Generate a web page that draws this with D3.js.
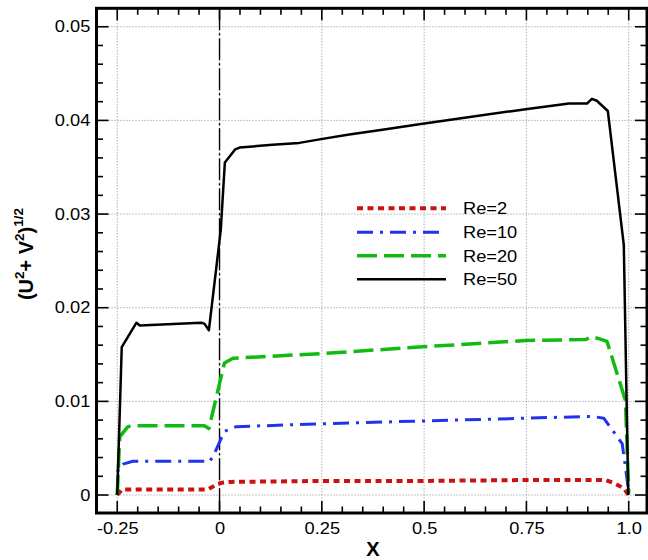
<!DOCTYPE html>
<html>
<head>
<meta charset="utf-8">
<script src="https://cdn.jsdelivr.net/npm/d3@7"></script>
<style>
  html, body { margin: 0; padding: 0; background: #fff; }
  svg { display: block; font-family: "Liberation Sans", Arial, Helvetica, sans-serif; }
</style>
</head>
<body>
<svg id="chart" width="648" height="560"></svg>
<script>
// Velocity magnitude profiles along X for several Reynolds numbers
const re2X  = [-0.25, -0.238, -0.226, -0.028, -0.004, 0.005, 0.025, 0.248, 0.488, 0.748, 0.943, 0.968, 0.988, 1.0];
const re2Y  = [0, 0.0006, 0.0006, 0.0006, 0.0012, 0.0013, 0.0014, 0.0015, 0.0015, 0.0016, 0.0016, 0.0012, 0.0007, 0.0];

const re10X = [-0.25, -0.248, -0.236, -0.212, -0.037, -0.026, -0.016, 0.012, 0.041, 0.248, 0.488, 0.748, 0.910, 0.939, 0.984, 0.992, 1.0];
const re10Y = [0, 0.0029, 0.0033, 0.0036, 0.0036, 0.0035, 0.0041, 0.0068, 0.0073, 0.0076, 0.0079, 0.0082, 0.0084, 0.0082, 0.0055, 0.0030, 0.0003];

const re20X = [-0.25, -0.244, -0.224, -0.212, -0.037, -0.026, 0.012, 0.033, 0.248, 0.488, 0.748, 0.894, 0.910, 0.927, 0.947, 0.992, 1.0];
const re20Y = [0, 0.0062, 0.0073, 0.0074, 0.0074, 0.0071, 0.0141, 0.0146, 0.0151, 0.0158, 0.0165, 0.0166, 0.0169, 0.0167, 0.0164, 0.0101, 0.0002];

const re50X = [-0.25, -0.239, -0.203, -0.195, -0.045, -0.037, -0.026, 0.003, 0.013, 0.038, 0.049, 0.129, 0.195, 0.248, 0.317, 0.398, 0.488, 0.569, 0.748, 0.854, 0.898, 0.910, 0.922, 0.949, 0.988, 0.999];
const re50Y = [0, 0.0158, 0.0184, 0.0181, 0.0184, 0.0183, 0.0176, 0.0283, 0.0355, 0.0369, 0.0371, 0.0374, 0.0376, 0.0380, 0.0385, 0.0390, 0.0396, 0.0401, 0.0412, 0.0418, 0.0418, 0.0423, 0.0421, 0.0410, 0.0267, 0];

const seriesNames  = ["Re=2", "Re=10", "Re=20", "Re=50"];
const xTickValues  = [-0.25, 0, 0.25, 0.5, 0.75, 1.0];
const xTickLabels  = ["-0.25", "0", "0.25", "0.5", "0.75", "1.0"];
const yTickValues  = [0, 0.01, 0.02, 0.03, 0.04, 0.05];
const yTickLabels  = ["0", "0.01", "0.02", "0.03", "0.04", "0.05"];

const series = [
  { name: seriesNames[0], xs: re2X,  ys: re2Y,  color: "#cc1111", width: 4,   dash: "6,4.5" },
  { name: seriesNames[1], xs: re10X, ys: re10Y, color: "#2233ee", width: 3,   dash: "16,7,3,7" },
  { name: seriesNames[2], xs: re20X, ys: re20Y, color: "#11bb11", width: 3.5, dash: "20,7" },
  { name: seriesNames[3], xs: re50X, ys: re50Y, color: "#000000", width: 2.5, dash: null }
];

const svg = d3.select("#chart");
const L = 96.5, R = 647, T = 8.3, B = 513;
const WIDE = "scale(1.12,1)";   // slightly wide lettering for labels

const x = d3.scaleLinear().domain([-0.3007, 1.0447]).range([L, R]);
const y = d3.scaleLinear().domain([-0.00192, 0.05197]).range([B, T]);

// dotted grid at major ticks
const grid = svg.append("g");
grid.selectAll("line.gx").data(xTickValues).join("line")
  .attr("x1", d => x(d)).attr("x2", d => x(d)).attr("y1", T).attr("y2", B)
  .attr("stroke", "#8a8a8a").attr("stroke-width", 1).attr("stroke-dasharray", "1,2");
grid.selectAll("line.gy").data(yTickValues).join("line")
  .attr("x1", L).attr("x2", R).attr("y1", d => y(d)).attr("y2", d => y(d))
  .attr("stroke", "#8a8a8a").attr("stroke-width", 1).attr("stroke-dasharray", "1,2");

// long-dash marker at X = 0
svg.append("line")
  .attr("x1", x(0)).attr("x2", x(0)).attr("y1", T).attr("y2", B)
  .attr("stroke", "#000").attr("stroke-width", 1.4).attr("stroke-dasharray", "22,3,2,3");

// curves
const line = d3.line().x(d => x(d[0])).y(d => y(d[1]));
series.forEach(s => {
  const pts = s.xs.map((v, i) => [v, s.ys[i]]);
  svg.append("path").datum(pts)
    .attr("d", line)
    .attr("fill", "none")
    .attr("stroke", s.color)
    .attr("stroke-width", s.width)
    .attr("stroke-linejoin", "round")
    .attr("stroke-dasharray", s.dash);
});

// inward ticks on all four sides
const xMinor = d3.range(-0.30, 1.0501, 0.05).map(v => +v.toFixed(2)).filter(v => v >= -0.3 && v <= 1.04);
const yMinor = d3.range(0, 0.0521, 0.002).map(v => +v.toFixed(3));
const tickG = svg.append("g").attr("stroke", "#000").attr("stroke-width", 1.6);
function isMajor(v, arr) { return arr.some(m => Math.abs(m - v) < 1e-9); }
xMinor.forEach(v => {
  const len = isMajor(v, xTickValues) ? 12 : 6.5;
  tickG.append("line").attr("x1", x(v)).attr("x2", x(v)).attr("y1", B).attr("y2", B - len);
  tickG.append("line").attr("x1", x(v)).attr("x2", x(v)).attr("y1", T).attr("y2", T + len);
});
yMinor.forEach(v => {
  const len = isMajor(v, yTickValues) ? 12 : 6.5;
  tickG.append("line").attr("x1", L).attr("x2", L + len).attr("y1", y(v)).attr("y2", y(v));
  tickG.append("line").attr("x1", R).attr("x2", R - len).attr("y1", y(v)).attr("y2", y(v));
});

// tick labels via d3 axes (tick marks drawn above)
const xAxis = d3.axisBottom(x).tickValues(xTickValues).tickFormat((d, i) => xTickLabels[i]).tickSize(0).tickPadding(9);
const gx = svg.append("g").attr("transform", `translate(0,${B})`).call(xAxis);
gx.select(".domain").remove();
gx.selectAll("text").attr("font-size", 16.3).attr("fill", "#000").attr("transform", WIDE)
  .attr("font-family", "'Liberation Sans', Arial, sans-serif");

const yAxis = d3.axisLeft(y).tickValues(yTickValues).tickFormat((d, i) => yTickLabels[i]).tickSize(0).tickPadding(5.5);
const gy = svg.append("g").attr("transform", `translate(${L},0)`).call(yAxis);
gy.select(".domain").remove();
gy.selectAll("text").attr("font-size", 16.3).attr("fill", "#000").attr("transform", WIDE)
  .attr("font-family", "'Liberation Sans', Arial, sans-serif");

// frame
svg.append("rect").attr("x", L).attr("y", T).attr("width", R - L).attr("height", B - T)
  .attr("fill", "none").attr("stroke", "#000").attr("stroke-width", 3);

// axis titles
svg.append("text").attr("x", 373).attr("y", 556).attr("text-anchor", "middle")
  .attr("font-size", 20).attr("font-weight", "bold").text("X");

const yt = svg.append("text")
  .attr("transform", "translate(33,254) rotate(-90)")
  .attr("text-anchor", "middle").attr("font-size", 20).attr("font-weight", "bold");
yt.append("tspan").text("(U");
yt.append("tspan").attr("font-size", 13.5).attr("dy", -9).text("2");
yt.append("tspan").attr("dy", 9).text("+ V");
yt.append("tspan").attr("font-size", 13.5).attr("dy", -9).text("2");
yt.append("tspan").attr("dy", 9).text(")");
yt.append("tspan").attr("font-size", 13.5).attr("dy", -10).text("1/2");

// legend
const legY = [208.3, 232.3, 255.7, 279.3];
const leg = svg.append("g");
series.forEach((s, i) => {
  leg.append("line").attr("x1", 357).attr("x2", 446).attr("y1", legY[i]).attr("y2", legY[i])
    .attr("stroke", s.color).attr("stroke-width", s.width).attr("stroke-dasharray", s.dash);
  leg.append("text").attr("x", 463 / 1.12).attr("y", legY[i]).attr("dy", "0.36em")
    .attr("transform", WIDE)
    .attr("font-size", 16.3).attr("fill", "#000").text(s.name);
});
</script>
</body>
</html>
